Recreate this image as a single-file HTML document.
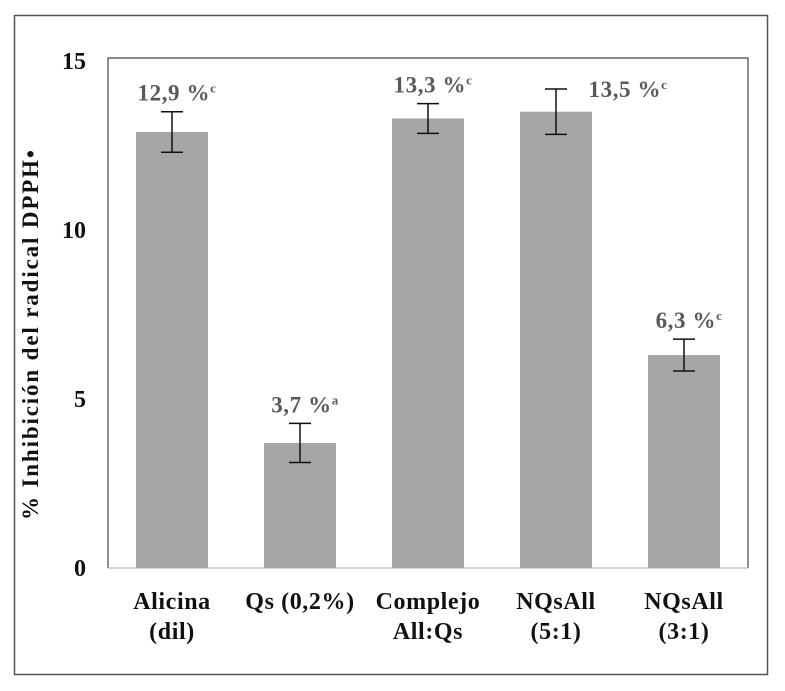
<!DOCTYPE html>
<html><head><meta charset="utf-8"><style>
body{margin:0;background:#fff;}
svg{display:block;font-family:"Liberation Serif",serif;font-weight:bold;}
</style></head><body>
<svg width="785" height="691">
<rect x="14.5" y="15.5" width="753" height="659" fill="#fff" stroke="#555" stroke-width="1.5"/>
<path d="M108,568V58H748V568" fill="none" stroke="#444" stroke-width="1.2"/>
<line x1="108" y1="568" x2="748" y2="568" stroke="#aaa" stroke-width="1"/>
<g id="g"></g>
<text transform="translate(38,335) rotate(-90)" text-anchor="middle" font-size="23" fill="#111" textLength="370" lengthAdjust="spacing">% Inhibición  del radical DPPH•</text>
</svg>
<script>
const categories=[["Alicina","(dil)"],["Qs (0,2%)"],["Complejo","All:Qs"],["NQsAll","(5:1)"],["NQsAll","(3:1)"]];
const values=[12.9,3.7,13.3,13.5,6.3];
const errors=[0.6,0.58,0.44,0.67,0.47];
const valueLabels=["12,9 %","3,7 %","13,3 %","13,5 %","6,3 %"];
const letters=["c","a","c","c","c"];
const yTicks=[0,5,10,15];
const X0=108,BW=128,Y0=568,YS=33.8;
const y=v=>Y0-v*YS, xc=i=>X0+BW*(i+0.5);
const g=document.getElementById('g'),NS="http://www.w3.org/2000/svg";
function mk(t,a,txt){const e=document.createElementNS(NS,t);for(const k in a)e.setAttribute(k,a[k]);if(txt!=null)e.textContent=txt;g.appendChild(e);return e;}
yTicks.forEach(t=>{const e=mk('text',{x:86,y:y(t)+8,'text-anchor':'end','font-size':24,fill:'#111'},t);

});
values.forEach((v,i)=>{
const b=mk('rect',{x:xc(i)-36,y:y(v),width:72,height:Y0-y(v),fill:'#a6a6a6'});


const c=xc(i),t=y(v+errors[i]),bo=y(v-errors[i]);
const eb=mk('path',{d:`M${c-11},${t}H${c+11}M${c},${t}V${bo}M${c-11},${bo}H${c+11}`,stroke:'#111','stroke-width':1.5,fill:'none'});


const lx=i===3?c+72:c+5, ly=i===3?t+8:t-11;
const lb=mk('text',{x:lx,y:ly,'text-anchor':'middle','font-size':23,fill:'#595959','letter-spacing':0.6});


const s1=document.createElementNS(NS,'tspan');s1.textContent=valueLabels[i];lb.appendChild(s1);
const s2=document.createElementNS(NS,'tspan');s2.setAttribute('font-size','13');s2.setAttribute('dy','-8');s2.textContent=letters[i];lb.appendChild(s2);
categories[i].forEach((ln,j)=>{const ct=mk('text',{x:c,y:609+j*30,'text-anchor':'middle','font-size':24,fill:'#111','letter-spacing':0.6},ln);

});
});
</script>
</body></html>
